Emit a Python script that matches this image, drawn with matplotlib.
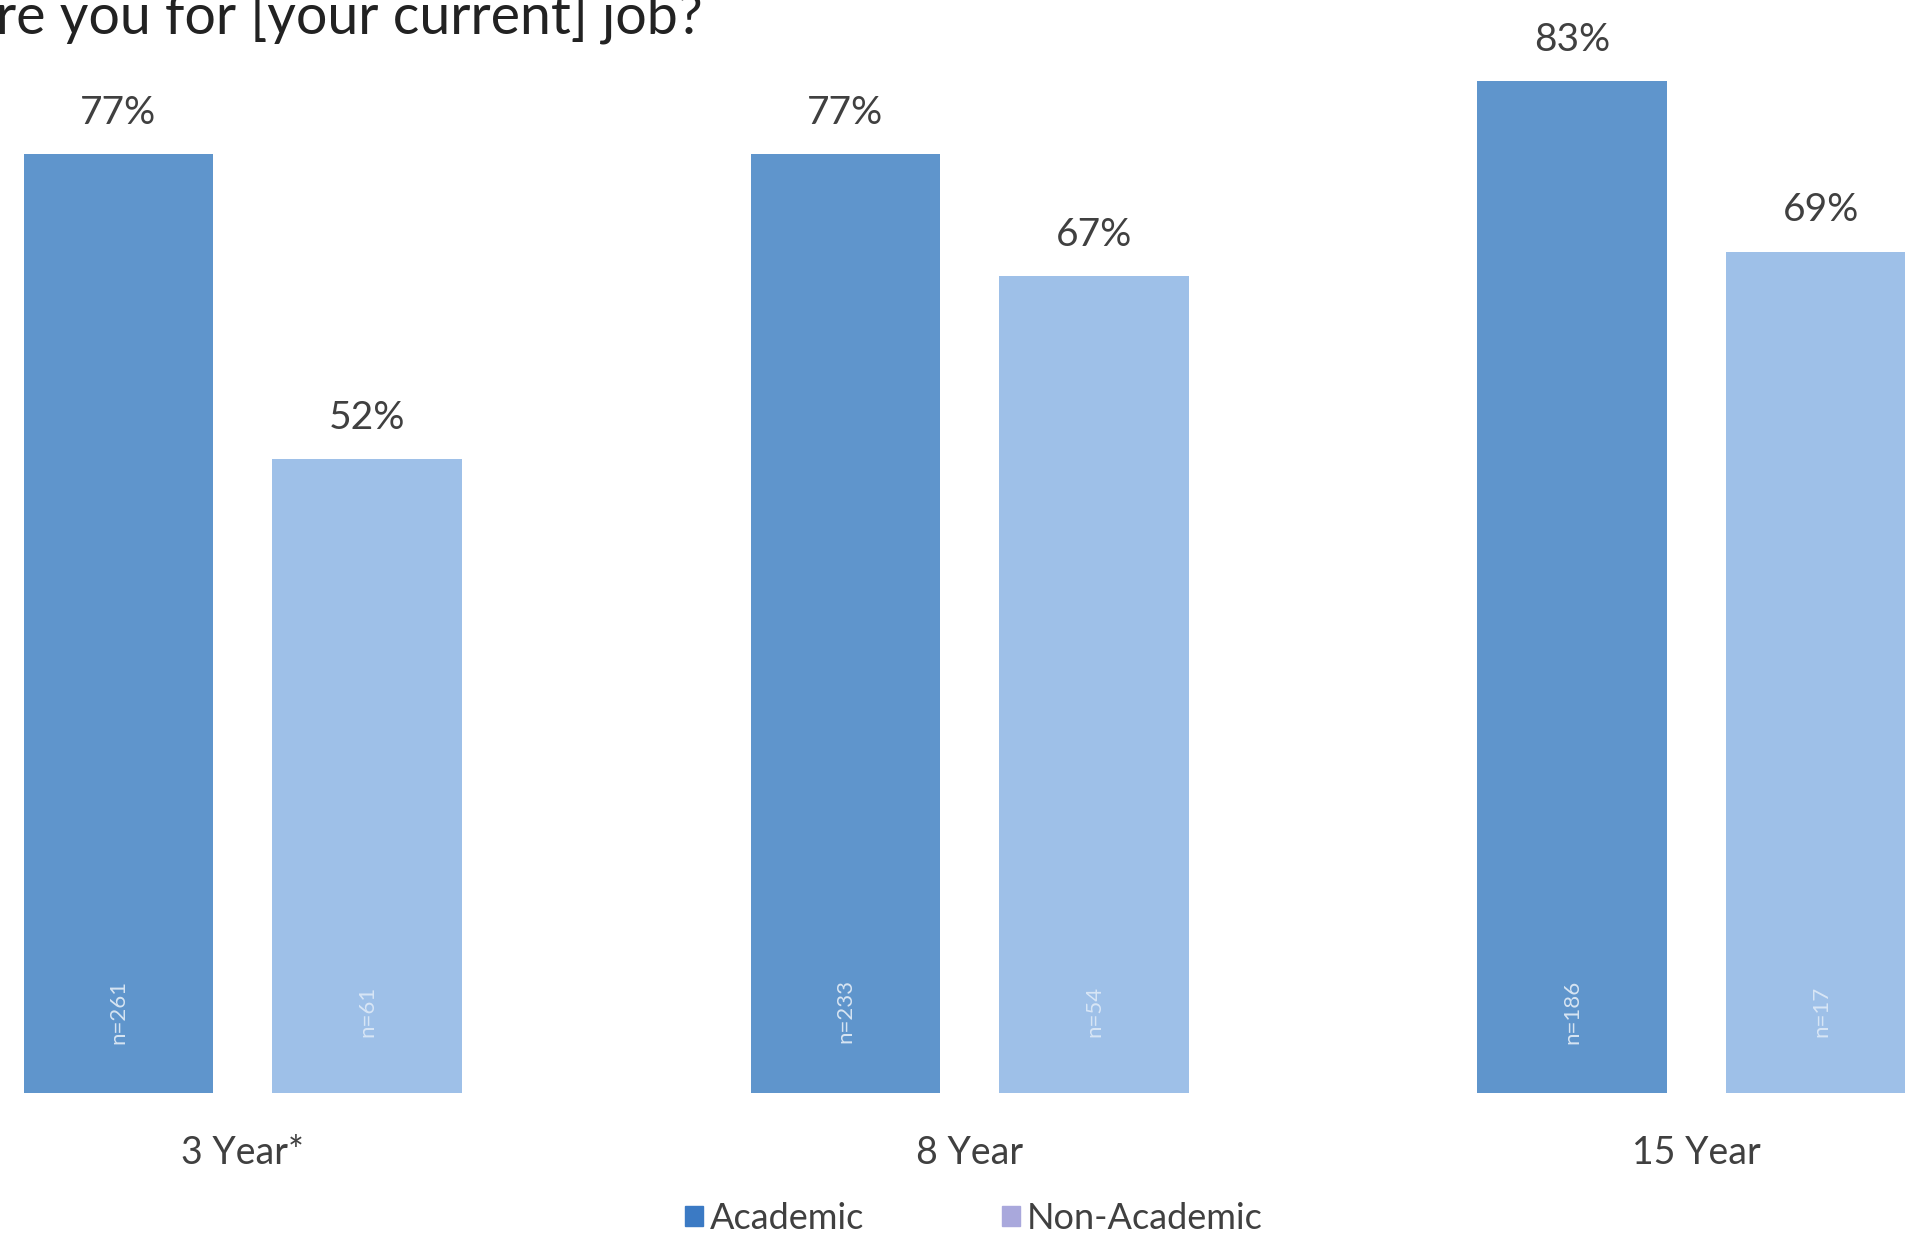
import numpy as np
import matplotlib.pyplot as plt
from matplotlib.patches import Patch

plt.rcParams['font.family'] = ['Lato', 'DejaVu Sans']

groups = ['3 Year*', '8 Year', '15 Year']
academic = [77, 77, 83]
non_academic = [52, 67, 69]
n_academic = ['n=261', 'n=233', 'n=186']
n_non_academic = ['n=61', 'n=54', 'n=17']

c_acad = '#5f95cc'
c_non = '#9ec0e8'
text_col = '#404040'

fig = plt.figure(figsize=(19.06, 12.38), dpi=100)
ax = fig.add_axes([0, 0.117, 1, 0.883])

x = np.arange(len(groups))
w = 0.261
off = 0.171
b1 = ax.bar(x - off, academic, w, color=c_acad)
b2 = ax.bar(x + off, non_academic, w, color=c_non)

ax.bar_label(b1, labels=[f'{v}%' for v in academic], padding=17,
             fontsize=28, color=text_col)
ax.bar_label(b2, labels=[f'{v}%' for v in non_academic], padding=17,
             fontsize=28, color=text_col)

# sample sizes written up the foot of each bar
for i in range(len(groups)):
    ax.text(x[i] - off, 6.7, n_academic[i], rotation=90, ha='center', va='center',
            fontsize=16, color='white', alpha=0.75)
    ax.text(x[i] + off, 6.7, n_non_academic[i], rotation=90, ha='center', va='center',
            fontsize=16, color='white', alpha=0.6)

ax.set_xlim(-0.334, 2.288)
ax.set_ylim(0, 89.66)
ax.set_xticks(x)
ax.set_xticklabels(groups, fontsize=27, color=text_col)
ax.tick_params(axis='x', length=0, pad=30)
ax.set_yticks([])
for s in ax.spines.values():
    s.set_visible(False)

fig.text(-0.002, 0.973, 're you for [your current] job?', fontsize=40,
         color='#222222', va='baseline', ha='left')

handles = [Patch(color='#3b7ac4', label='Academic'),
           Patch(color='#a9a8dc', label='Non-Academic')]
fig.legend(handles=handles, loc='center', bbox_to_anchor=(0.511, 0.016),
           ncol=2, frameon=False, fontsize=26, labelcolor=text_col,
           handlelength=0.5, handleheight=0.5, handletextpad=0.2,
           columnspacing=3.8)

fig.savefig('out.png', dpi=100)
